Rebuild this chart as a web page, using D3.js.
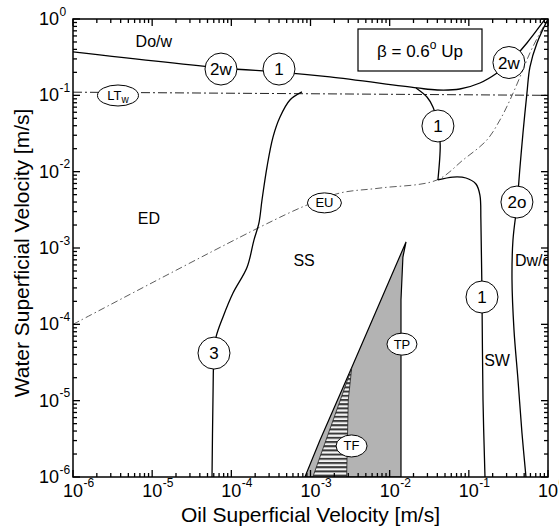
<!DOCTYPE html>
<html><head><meta charset="utf-8">
<script src="https://cdn.jsdelivr.net/npm/d3@7"></script>
<style>
body{margin:0;background:#fff}
svg{display:block}
text{font-family:"Liberation Sans",Arial,Helvetica,sans-serif;fill:#000}
</style>
</head><body>
<svg id="chart" width="559" height="529"></svg>
<script>
// ---------- data ----------
const tickExponents = ["-6","-5","-4","-3","-2","-1","0"];
const xAxisTitle = "Oil Superficial Velocity [m/s]";
const yAxisTitle = "Water Superficial Velocity [m/s]";

// Do/w boundary (transition 2w / 1 / 2w)
const dowX = [1e-6, 7.6e-5, 4.1e-4, 1.76e-3, 0.022, 0.04, 0.077, 0.138, 0.227, 0.331, 0.542, 0.865, 1.05];
const dowY = [0.37, 0.228, 0.202, 0.174, 0.125, 0.1175, 0.121, 0.145, 0.196, 0.273, 0.485, 0.914, 1.2];
// branch "1" from Do/w down to EU line
const br1X = [0.0215, 0.0296, 0.0352, 0.0415, 0.0435, 0.0407];
const br1Y = [0.125, 0.095, 0.0703, 0.0385, 0.022, 0.00778];
// SS / SW boundary "1"
const swX = [0.0407, 0.063, 0.092, 0.123, 0.138, 0.142, 0.1466, 0.151, 0.160];
const swY = [0.00778, 0.0085, 0.00826, 0.00689, 0.00494, 0.00233, 2.28e-4, 1.02e-5, 1e-6];
// Dw/o boundary "2o"
const dwoX = [1.0, 0.726, 0.591, 0.542, 0.483, 0.443, 0.405, 0.361, 0.351, 0.372, 0.418, 0.469, 0.527];
const dwoY = [1.0, 0.485, 0.235, 0.107, 0.0321, 0.0115, 0.00366, 0.00127, 3.8e-4, 8.4e-5, 1.86e-5, 3.77e-6, 1e-6];
// ED / SS boundary "3"
const ssX = [7.8e-4, 5.5e-4, 4.12e-4, 3.36e-4, 2.82e-4, 2.44e-4, 2.23e-4, 1.93e-4, 1.58e-4, 1.05e-4, 7.85e-5, 6.4e-5, 6.04e-5, 5.86e-5, 5.7e-5];
const ssY = [0.111, 0.0869, 0.052, 0.0284, 0.0115, 0.00425, 0.00212, 0.00127, 5.6e-4, 2.57e-4, 1.25e-4, 6.8e-5, 4.2e-5, 1.02e-5, 1e-6];
// LTw line (dash-dot)
const ltX = [1e-6, 1];
const ltY = [0.11, 0.1];
// EU line (dash-dot)
const euX = [1e-6, 2.3e-4, 9.04e-4, 2.35e-3, 7.55e-3, 0.0396, 0.0843, 0.169, 0.247, 0.331, 0.443, 0.591, 0.792, 1.0];
const euY = [1e-4, 1.88e-3, 3.66e-3, 5.25e-3, 6.1e-3, 7.78e-3, 0.0142, 0.026, 0.0475, 0.0869, 0.174, 0.359, 0.656, 1.0];
// TP region (shaded)
const tpX = [8.5e-4, 1.32e-3, 3.34e-3, 0.0161, 0.0147, 0.0139, 0.0139];
const tpY = [1e-6, 3.05e-6, 2.76e-5, 1.2e-3, 7.62e-4, 2.08e-4, 1e-6];
// TF region (hatched)
const tfX = [1.07e-3, 3.31e-3, 3.0e-3, 2.86e-3];
const tfY = [1e-6, 2.65e-5, 1.02e-5, 1e-6];

// circled transition labels
const circleText = ["2w", "1", "2w", "1", "1", "2o", "3"];
const circleX = [7.4e-5, 4.0e-4, 0.321, 0.0407, 0.1466, 0.405, 6.04e-5];
const circleY = [0.221, 0.221, 0.269, 0.0397, 2.28e-4, 4.0e-3, 4.2e-5];
// oval labels
const ovalText = ["LT", "EU", "TP", "TF"];
const ovalSub = ["w", "", "", ""];
const ovalX = [3.7e-6, 1.5e-3, 0.0143, 3.3e-3];
const ovalY = [0.0995, 3.9e-3, 5.5e-5, 2.55e-6];
// region labels
const regionText = ["Do/w", "ED", "SS", "Dw/o", "SW"];
const regionX = [1.05e-5, 9.1e-6, 8.3e-4, 0.383, 0.227];
const regionY = [0.5, 2.47e-3, 6.8e-4, 6.86e-4, 3.4e-5];
const legendMain = "\u03B2 = 0.6", legendSup = "o", legendTail = " Up";

// ---------- drawing ----------
const L = 73, R = 548, T = 19, B = 477;
const svg = d3.select("#chart");
const x = d3.scaleLog().domain([1e-6, 1]).range([L, R]);
const y = d3.scaleLog().domain([1e-6, 1]).range([B, T]);
const zip = (a, b) => a.map((v, i) => [v, b[i]]);

const defs = svg.append("defs");
defs.append("clipPath").attr("id", "clip").append("rect")
  .attr("x", L).attr("y", T).attr("width", R - L).attr("height", B - T);
const pat = defs.append("pattern").attr("id", "hatch").attr("patternUnits", "userSpaceOnUse")
  .attr("width", 8).attr("height", 4.2);
pat.append("rect").attr("width", 8).attr("height", 4.2).attr("fill", "#f4f4f4");
pat.append("rect").attr("y", 0).attr("width", 8).attr("height", 2).attr("fill", "#3a3a3a");

const g = svg.append("g").attr("clip-path", "url(#clip)");
const smooth = d3.line().x(d => x(d[0])).y(d => y(d[1])).curve(d3.curveCatmullRom.alpha(0.5));
const straight = d3.line().x(d => x(d[0])).y(d => y(d[1]));

// regions
g.append("path").attr("d", straight(zip(tpX, tpY)) + "Z")
  .attr("fill", "#b3b3b3").attr("stroke", "#000").attr("stroke-width", 1.2);
g.append("path").attr("d", straight(zip(tfX, tfY)) + "Z")
  .attr("fill", "url(#hatch)").attr("stroke", "#222").attr("stroke-width", 0.8);

// dash-dot lines
g.append("path").attr("d", straight(zip(ltX, ltY))).attr("fill", "none")
  .attr("stroke", "#222").attr("stroke-width", 1).attr("stroke-dasharray", "9,3,2,3");
g.append("path").attr("d", smooth(zip(euX, euY))).attr("fill", "none")
  .attr("stroke", "#333").attr("stroke-width", 0.8).attr("stroke-dasharray", "7,3,1.5,3");

// solid boundaries
[[dowX, dowY], [br1X, br1Y], [swX, swY], [dwoX, dwoY], [ssX, ssY]].forEach(([a, b]) => {
  g.append("path").attr("d", smooth(zip(a, b))).attr("fill", "none")
    .attr("stroke", "#000").attr("stroke-width", 1.3);
});

// region labels
regionText.forEach((t, i) => {
  g.append("text").attr("x", x(regionX[i])).attr("y", y(regionY[i]))
    .attr("text-anchor", t === "Dw/o" ? "start" : "middle")
    .attr("dominant-baseline", "central").attr("font-size", 16).text(t);
});

// circles
circleText.forEach((t, i) => {
  const cx = x(circleX[i]), cy = y(circleY[i]);
  g.append("circle").attr("cx", cx).attr("cy", cy).attr("r", 16)
    .attr("fill", "#fff").attr("stroke", "#000").attr("stroke-width", 1);
  g.append("text").attr("x", cx).attr("y", cy + 6).attr("text-anchor", "middle")
    .attr("font-size", 17).text(t);
});
// ovals
const ovalR = [[20.5, 10.5], [17, 10], [15, 11], [15.5, 11]];
ovalText.forEach((t, i) => {
  const cx = x(ovalX[i]), cy = y(ovalY[i]);
  g.append("ellipse").attr("cx", cx).attr("cy", cy).attr("rx", ovalR[i][0]).attr("ry", ovalR[i][1])
    .attr("fill", "#fff").attr("stroke", "#000").attr("stroke-width", 1);
  const tx = g.append("text").attr("x", cx).attr("y", cy + 4.5).attr("text-anchor", "middle")
    .attr("font-size", 13);
  tx.append("tspan").text(t);
  if (ovalSub[i]) tx.append("tspan").attr("dy", 3.5).attr("font-size", 10).text(ovalSub[i]);
});

// legend box
svg.append("rect").attr("x", 358).attr("y", 29).attr("width", 124).attr("height", 42)
  .attr("fill", "#fff").attr("stroke", "#000").attr("stroke-width", 1.2);
const lt = svg.append("text").attr("x", 420).attr("y", 57).attr("text-anchor", "middle")
  .attr("font-size", 17).style("white-space", "pre");
lt.append("tspan").text(legendMain);
lt.append("tspan").attr("dy", -8).attr("font-size", 12).text(legendSup);
lt.append("tspan").attr("dy", 8).text(legendTail);

// frame & ticks
svg.append("rect").attr("x", L).attr("y", T).attr("width", R - L).attr("height", B - T)
  .attr("fill", "none").attr("stroke", "#000").attr("stroke-width", 1.5);
const isMajor = t => Math.abs(Math.log10(t) - Math.round(Math.log10(t))) < 1e-6;
const tg = svg.append("g").attr("stroke", "#000").attr("stroke-width", 1.3);
x.ticks().forEach(t => {
  const len = isMajor(t) ? 7 : 4, px = x(t);
  tg.append("line").attr("x1", px).attr("x2", px).attr("y1", B).attr("y2", B - len);
  tg.append("line").attr("x1", px).attr("x2", px).attr("y1", T).attr("y2", T + len);
});
y.ticks().forEach(t => {
  const len = isMajor(t) ? 7 : 4, py = y(t);
  tg.append("line").attr("y1", py).attr("y2", py).attr("x1", L).attr("x2", L + len);
  tg.append("line").attr("y1", py).attr("y2", py).attr("x1", R).attr("x2", R - len);
});

// tick labels
const majors = x.ticks().filter(isMajor);
majors.forEach((t, i) => {
  const px = x(t);
  const base = svg.append("text").attr("x", px).attr("y", 497).attr("text-anchor", "middle")
    .attr("font-size", 18).text("10");
  const w = base.node().getComputedTextLength();
  svg.append("text").attr("x", px + w / 2 + 0.5).attr("y", 487).attr("font-size", 12).text(tickExponents[i]);
});
y.ticks().filter(isMajor).forEach((t, i) => {
  const py = y(t);
  svg.append("text").attr("x", 59).attr("y", py + 6).attr("text-anchor", "end")
    .attr("font-size", 18).text("10");
  svg.append("text").attr("x", 59.5).attr("y", py - 3.5).attr("font-size", 12).text(tickExponents[i]);
});

// axis titles
svg.append("text").attr("x", (L + R) / 2 + 0).attr("y", 522).attr("text-anchor", "middle")
  .attr("font-size", 21).text(xAxisTitle);
svg.append("text").attr("transform", `translate(29,${(T + B) / 2 + 5}) rotate(-90)`)
  .attr("text-anchor", "middle").attr("font-size", 21).text(yAxisTitle);
</script>
</body></html>
